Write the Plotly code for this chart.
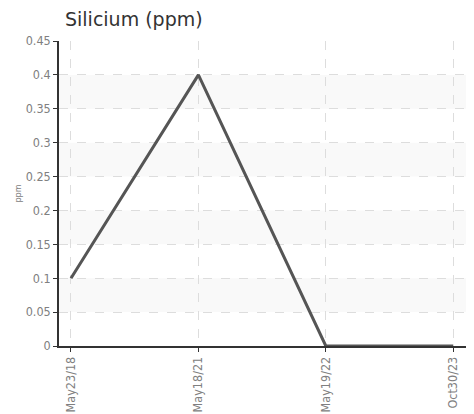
import plotly.graph_objects as go

categories = ["May23/18", "May18/21", "May19/22", "Oct30/23"]
values = [0.1, 0.4, 0.0, 0.0]
y_ticks = [0, 0.05, 0.1, 0.15, 0.2, 0.25, 0.3, 0.35, 0.4, 0.45]
y_tick_labels = ["0", "0.05", "0.1", "0.15", "0.2", "0.25", "0.3", "0.35", "0.4", "0.45"]

font_fam = "DejaVu Sans Condensed, DejaVu Sans, sans-serif"

W, H = 466, 406  # page body has an 8px margin

fig = go.Figure()
fig.add_trace(go.Scatter(
    x=categories, y=values, mode="lines",
    line=dict(color="#555555", width=3),
    cliponaxis=False, hoverinfo="x+y",
))

# alternating bands
shapes = []
for i in range(1, len(y_ticks) - 1, 2):
    shapes.append(dict(type="rect", xref="paper", yref="y", x0=0, x1=1,
                       y0=y_ticks[i], y1=y_ticks[i + 1],
                       fillcolor="#f9f9f9", line=dict(width=0), layer="below"))

fig.update_layout(
    width=W, height=H,
    margin=dict(l=51, r=8, t=33, b=68),
    paper_bgcolor="white", plot_bgcolor="white",
    showlegend=False,
    shapes=shapes,
    title=dict(text="Silicium (ppm)", x=57/W, xanchor="left", y=1-11/H, yanchor="middle",
               font=dict(family="DejaVu Sans, sans-serif", size=19, color="#333333")),
    xaxis=dict(
        type="category", range=[-0.094, 3.1],
        showline=True, linecolor="#333333", linewidth=1.5,
        ticks="outside", ticklen=4, tickcolor="#333333",
        tickangle=-90, tickfont=dict(family=font_fam, size=12.5, color="#808080"),
        showgrid=True, gridcolor="#dddddd", griddash="dash", gridwidth=1,
        zeroline=False, automargin=False,
    ),
    yaxis=dict(
        range=[0, 0.45], tickvals=y_ticks, ticktext=y_tick_labels,
        showline=True, linecolor="#333333", linewidth=1.5,
        ticks="outside", ticklen=4, tickcolor="#333333",
        tickfont=dict(family=font_fam, size=12.5, color="#808080"),
        showgrid=True, gridcolor="#dddddd", griddash="dash", gridwidth=1,
        zeroline=False, automargin=False,
        title=dict(text="ppm", font=dict(family=font_fam, size=9, color="#808080"), standoff=3),
    ),
)

fig.write_html("out.html")
